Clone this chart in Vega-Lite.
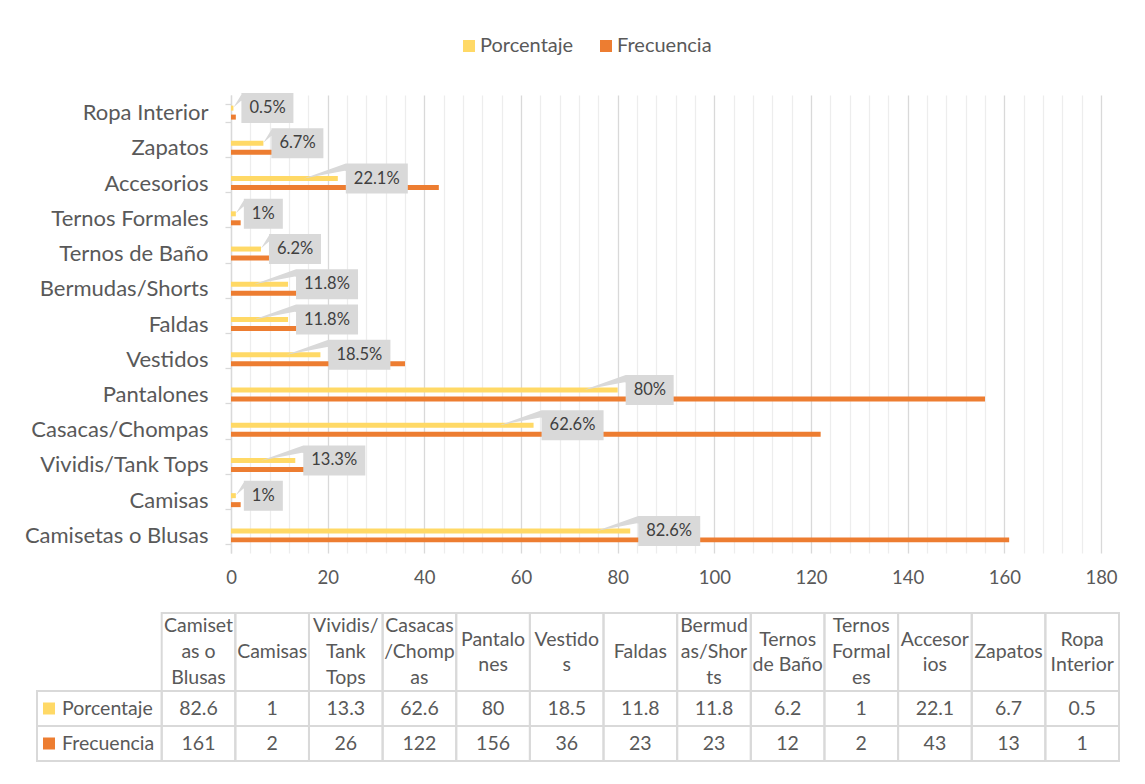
{
  "$schema": "https://vega.github.io/schema/vega-lite/v6.json",
  "width": 870,
  "height": 458,
  "autosize": {"type": "none"},
  "padding": {"left": 231, "top": 95, "right": 44, "bottom": 231},
  "background": "white",
  "config": {"view": {"stroke": null}, "font": "Lato"},
  "datasets": {
    "d": [
      {"cat": "Camisetas o Blusas", "series": "Porcentaje", "value": 82.6},
      {"cat": "Camisetas o Blusas", "series": "Frecuencia", "value": 161},
      {"cat": "Camisas", "series": "Porcentaje", "value": 1},
      {"cat": "Camisas", "series": "Frecuencia", "value": 2},
      {"cat": "Vividis/Tank Tops", "series": "Porcentaje", "value": 13.3},
      {"cat": "Vividis/Tank Tops", "series": "Frecuencia", "value": 26},
      {"cat": "Casacas/Chompas", "series": "Porcentaje", "value": 62.6},
      {"cat": "Casacas/Chompas", "series": "Frecuencia", "value": 122},
      {"cat": "Pantalones", "series": "Porcentaje", "value": 80},
      {"cat": "Pantalones", "series": "Frecuencia", "value": 156},
      {"cat": "Vestidos", "series": "Porcentaje", "value": 18.5},
      {"cat": "Vestidos", "series": "Frecuencia", "value": 36},
      {"cat": "Faldas", "series": "Porcentaje", "value": 11.8},
      {"cat": "Faldas", "series": "Frecuencia", "value": 23},
      {"cat": "Bermudas/Shorts", "series": "Porcentaje", "value": 11.8},
      {"cat": "Bermudas/Shorts", "series": "Frecuencia", "value": 23},
      {"cat": "Ternos de Baño", "series": "Porcentaje", "value": 6.2},
      {"cat": "Ternos de Baño", "series": "Frecuencia", "value": 12},
      {"cat": "Ternos Formales", "series": "Porcentaje", "value": 1},
      {"cat": "Ternos Formales", "series": "Frecuencia", "value": 2},
      {"cat": "Accesorios", "series": "Porcentaje", "value": 22.1},
      {"cat": "Accesorios", "series": "Frecuencia", "value": 43},
      {"cat": "Zapatos", "series": "Porcentaje", "value": 6.7},
      {"cat": "Zapatos", "series": "Frecuencia", "value": 13},
      {"cat": "Ropa Interior", "series": "Porcentaje", "value": 0.5},
      {"cat": "Ropa Interior", "series": "Frecuencia", "value": 1}
    ],
    "cols": [
      {"cat": "Camisetas o Blusas", "head": ["Camiset", "as o", "Blusas"]},
      {"cat": "Camisas", "head": ["Camisas"]},
      {"cat": "Vividis/Tank Tops", "head": ["Vividis/", "Tank", "Tops"]},
      {"cat": "Casacas/Chompas", "head": ["Casacas", "/Chomp", "as"]},
      {"cat": "Pantalones", "head": ["Pantalo", "nes"]},
      {"cat": "Vestidos", "head": ["Vestido", "s"]},
      {"cat": "Faldas", "head": ["Faldas"]},
      {"cat": "Bermudas/Shorts", "head": ["Bermud", "as/Shor", "ts"]},
      {"cat": "Ternos de Baño", "head": ["Ternos", "de Baño"]},
      {"cat": "Ternos Formales", "head": ["Ternos", "Formal", "es"]},
      {"cat": "Accesorios", "head": ["Accesor", "ios"]},
      {"cat": "Zapatos", "head": ["Zapatos"]},
      {"cat": "Ropa Interior", "head": ["Ropa", "Interior"]}
    ]
  },
  "layer": [
    {
      "data": {"name": "d"},
      "transform": [{"calculate": "datum.value + '%'", "as": "label"}],
      "layer": [
        {
          "mark": {"type": "bar"},
          "encoding": {
            "x": {
              "field": "value", "type": "quantitative",
              "scale": {"domain": [0, 180], "nice": false, "zero": true},
              "axis": {
                "title": null,
                "values": [0,4,8,12,16,20,24,28,32,36,40,44,48,52,56,60,64,68,72,76,80,84,88,92,96,100,104,108,112,116,120,124,128,132,136,140,144,148,152,156,160,164,168,172,176,180],
                "tickCount": 46,
                "labelExpr": "datum.value % 20 === 0 ? datum.label : ''",
                "labelOverlap": false,
                "labelFlush": false,
                "grid": true,
                "gridColor": {"condition": {"test": "datum.value % 20 === 0", "value": "#D9D9D9"}, "value": "#EDEDED"},
                "gridWidth": 1.3,
                "domain": false,
                "ticks": false,
                "tickSize": 0,
                "labelPadding": 15,
                "labelFontSize": 18.5,
                "labelColor": "#595959",
                "labelFont": "Lato"
              }
            },
            "y": {
              "field": "cat", "type": "nominal", "sort": null,
              "scale": {
                "domain": ["Ropa Interior","Zapatos","Accesorios","Ternos Formales","Ternos de Baño","Bermudas/Shorts","Faldas","Vestidos","Pantalones","Casacas/Chompas","Vividis/Tank Tops","Camisas","Camisetas o Blusas"],
                "paddingInner": 0.49, "paddingOuter": 0.245
              },
              "axis": {
                "title": null,
                "labelFontSize": 22,
                "labelLimit": 400,
                "labelColor": "#595959",
                "labelFont": "Lato",
                "domainColor": "#D9D9D9",
                "domainWidth": 1.3,
                "tickColor": "#D9D9D9",
                "tickSize": 6,
                "tickWidth": 1.3,
                "tickBand": "extent",
                "labelPadding": 17,
                "grid": false
              }
            },
            "yOffset": {
              "field": "series", "type": "nominal",
              "scale": {"domain": ["Porcentaje", "Frecuencia"], "paddingInner": 0.444, "paddingOuter": 0.222}
            },
            "color": {
              "field": "series", "type": "nominal",
              "scale": {"domain": ["Porcentaje", "Frecuencia"], "range": ["#FFD966", "#ED7D31"]},
              "legend": {
                "orient": "none",
                "legendX": 228,
                "legendY": -59,
                "direction": "horizontal",
                "title": null,
                "symbolType": "square",
                "symbolSize": 144,
                "symbolStrokeWidth": 0,
                "labelFontSize": 20,
                "labelColor": "#595959",
                "labelFont": "Lato",
                "labelOffset": 1,
                "columnPadding": 22
              }
            }
          }
        },
        {
          "transform": [
            {"filter": "datum.series === 'Porcentaje'"},
            {"calculate": "length(datum.label)", "as": "n"}
          ],
          "mark": {"type": "point", "filled": true, "color": "#D9D9D9", "opacity": 1, "size": 4, "strokeWidth": 0},
          "encoding": {
            "x": {"field": "value", "type": "quantitative"},
            "y": {"field": "cat", "type": "nominal", "sort": null},
            "shape": {
              "field": "n", "type": "nominal",
              "scale": {
                "domain": [2, 3, 4, 5],
                "range": [
                  "M8,-18L0,-5L8,-12ZM8,-19.5H47V10.5H8Z",
                  "M8,-19.5L-34,-4.5L8,-12.5ZM8,-19.5H56V10.5H8Z",
                  "M8,-18L0,-5L8,-12ZM8,-19.5H60V10.5H8Z",
                  "M8,-19.5L-34,-4.5L8,-12.5ZM8,-19.5H70V10.5H8Z"
                ]
              },
              "legend": null
            }
          }
        },
        {
          "transform": [{"filter": "datum.series === 'Porcentaje'"}],
          "mark": {"type": "text", "align": "left", "baseline": "middle", "dx": 16, "dy": -4.5, "fontSize": 16.5, "color": "#404040", "font": "Lato"},
          "encoding": {
            "x": {"field": "value", "type": "quantitative"},
            "y": {"field": "cat", "type": "nominal", "sort": null},
            "text": {"field": "label"}
          }
        }
      ]
    },
    {
      "data": {"name": "cols"},
      "layer": [
        {
          "mark": {"type": "rect", "fill": "white", "fillOpacity": 0, "stroke": "#D9D9D9", "strokeWidth": 2},
          "encoding": {
            "x": {"field": "cat", "type": "nominal", "sort": null,
              "scale": {"domain": ["Camisetas o Blusas","Camisas","Vividis/Tank Tops","Casacas/Chompas","Pantalones","Vestidos","Faldas","Bermudas/Shorts","Ternos de Baño","Ternos Formales","Accesorios","Zapatos","Ropa Interior"], "range": [-69.3, 888], "paddingInner": 0, "paddingOuter": 0},
              "axis": null},
            "y": {"datum": "h", "type": "nominal", "scale": {"domain": ["h"], "range": [518, 596], "paddingInner": 0, "paddingOuter": 0}, "axis": null}
          }
        },
        {
          "transform": [{"filter": "length(datum.head) === 1"}],
          "mark": {"type": "text", "fontSize": 19.5, "lineHeight": 26, "color": "#595959", "baseline": "middle", "align": "center", "font": "Lato"},
          "encoding": {
            "x": {"field": "cat", "type": "nominal", "sort": null},
            "y": {"datum": "h", "type": "nominal"},
            "text": {"field": "head"}
          }
        },
        {
          "transform": [{"filter": "length(datum.head) === 2"}],
          "mark": {"type": "text", "fontSize": 19.5, "lineHeight": 25, "dy": -12.5, "color": "#595959", "baseline": "middle", "align": "center", "font": "Lato"},
          "encoding": {
            "x": {"field": "cat", "type": "nominal", "sort": null},
            "y": {"datum": "h", "type": "nominal"},
            "text": {"field": "head"}
          }
        },
        {
          "transform": [{"filter": "length(datum.head) === 3"}],
          "mark": {"type": "text", "fontSize": 19.5, "lineHeight": 26, "dy": -26, "color": "#595959", "baseline": "middle", "align": "center", "font": "Lato"},
          "encoding": {
            "x": {"field": "cat", "type": "nominal", "sort": null},
            "y": {"datum": "h", "type": "nominal"},
            "text": {"field": "head"}
          }
        }
      ]
    },
    {
      "data": {"name": "d"},
      "layer": [
        {
          "mark": {"type": "rect", "fill": "white", "fillOpacity": 0, "stroke": "#D9D9D9", "strokeWidth": 2},
          "encoding": {
            "x": {"field": "cat", "type": "nominal", "sort": null,
              "scale": {"domain": ["Camisetas o Blusas","Camisas","Vividis/Tank Tops","Casacas/Chompas","Pantalones","Vestidos","Faldas","Bermudas/Shorts","Ternos de Baño","Ternos Formales","Accesorios","Zapatos","Ropa Interior"], "range": [-69.3, 888], "paddingInner": 0, "paddingOuter": 0},
              "axis": null},
            "y": {"field": "series", "type": "nominal", "sort": null, "scale": {"domain": ["Porcentaje", "Frecuencia"], "range": [596, 666], "paddingInner": 0, "paddingOuter": 0}, "axis": null}
          }
        },
        {
          "mark": {"type": "text", "fontSize": 19.5, "color": "#595959", "baseline": "middle", "align": "center", "font": "Lato"},
          "encoding": {
            "x": {"field": "cat", "type": "nominal", "sort": null},
            "y": {"field": "series", "type": "nominal", "sort": null},
            "text": {"field": "value", "type": "nominal"}
          }
        }
      ]
    },
    {
      "data": {"name": "d"},
      "transform": [{"filter": "datum.cat === 'Camisetas o Blusas'"}],
      "layer": [
        {
          "mark": {"type": "rect", "fill": "white", "fillOpacity": 0, "stroke": "#D9D9D9", "strokeWidth": 2},
          "encoding": {
            "x": {"datum": "lab", "type": "nominal", "scale": {"domain": ["lab"], "range": [-194, -69.3], "paddingInner": 0, "paddingOuter": 0}, "axis": null},
            "y": {"field": "series", "type": "nominal", "sort": null, "scale": {"domain": ["Porcentaje", "Frecuencia"], "range": [596, 666], "paddingInner": 0, "paddingOuter": 0}, "axis": null}
          }
        },
        {
          "mark": {"type": "text", "fontSize": 19.5, "color": "#595959", "baseline": "middle", "align": "left", "dx": 25, "font": "Lato"},
          "encoding": {
            "x": {"datum": "lab", "type": "nominal", "bandPosition": 0},
            "y": {"field": "series", "type": "nominal", "sort": null},
            "text": {"field": "series"}
          }
        },
        {
          "mark": {"type": "point", "shape": "square", "filled": true, "opacity": 1, "size": 144, "xOffset": 12, "strokeWidth": 0},
          "encoding": {
            "x": {"datum": "lab", "type": "nominal", "bandPosition": 0},
            "y": {"field": "series", "type": "nominal", "sort": null},
            "color": {"field": "series", "type": "nominal"}
          }
        }
      ]
    }
  ],
  "resolve": {"scale": {"x": "independent", "y": "independent"}}
}
